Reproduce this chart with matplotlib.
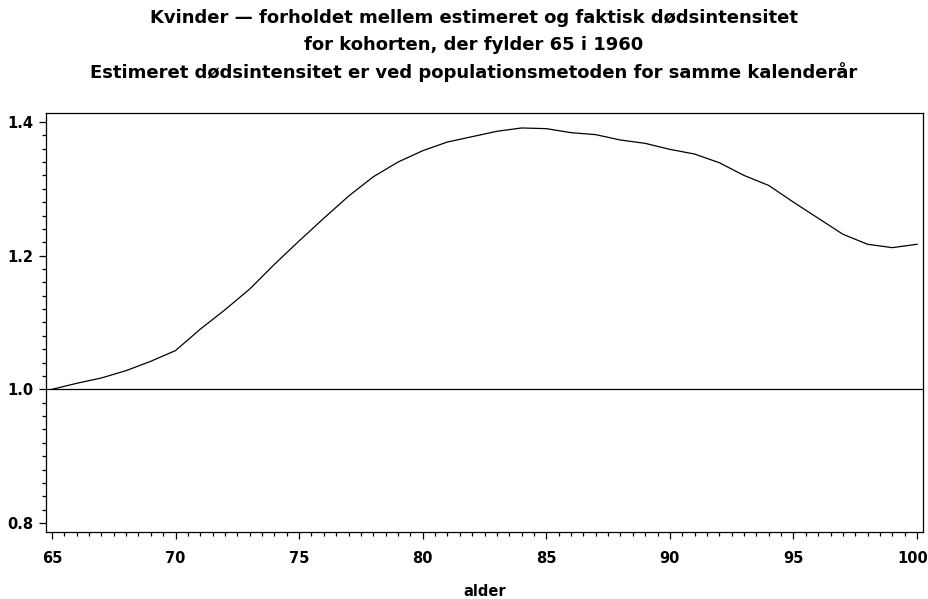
import matplotlib
matplotlib.use("Agg")
import matplotlib.pyplot as plt
import matplotlib.transforms as mtransforms
from matplotlib.ticker import MultipleLocator, FormatStrFormatter

plt.rcParams['font.family'] = ['DejaVu Sans']

# forholdet mellem estimeret og faktisk dødsintensitet, kvinder
alder = list(range(65, 101))
forhold = [1.000, 1.009, 1.017, 1.028, 1.042, 1.058, 1.090, 1.119, 1.150, 1.187,
           1.222, 1.256, 1.289, 1.318, 1.340, 1.357, 1.370, 1.378, 1.386, 1.391,
           1.390, 1.384, 1.381, 1.373, 1.368, 1.359, 1.352, 1.339, 1.320, 1.305,
           1.280, 1.256, 1.232, 1.217, 1.212, 1.217]
reference = 1.0

titler = ["Kvinder \u2014 forholdet mellem estimeret og faktisk dødsintensitet",
          "for kohorten, der fylder 65 i 1960",
          "Estimeret dødsintensitet er ved populationsmetoden for samme kalenderår"]

W, H = 929, 599
fig = plt.figure(figsize=(W / 100, H / 100), dpi=100)
ax = fig.add_axes([46 / W, 1 - 532 / H, (923 - 46) / W, (532 - 113) / H])

ax.plot(alder, forhold, color='black', lw=0.9)
ax.axhline(reference, color='black', lw=0.9)

ax.set_xlim(64.76, 100.24)
ax.set_ylim(0.7866, 1.4134)
ax.xaxis.set_major_locator(MultipleLocator(5))
ax.xaxis.set_minor_locator(MultipleLocator(0.5))
ax.yaxis.set_major_locator(MultipleLocator(0.2))
ax.yaxis.set_minor_locator(MultipleLocator(0.02))
ax.yaxis.set_major_formatter(FormatStrFormatter('%.1f'))

ax.tick_params(which='major', direction='out', length=5, width=0.9, labelsize=10.5)
ax.tick_params(axis='x', which='major', pad=9)
ax.tick_params(axis='y', which='major', pad=4)
ax.tick_params(which='minor', direction='out', length=3, width=0.9)
for lbl in ax.get_xticklabels() + ax.get_yticklabels():
    lbl.set_fontweight('bold')
for s in ax.spines.values():
    s.set_linewidth(0.9)

ax.set_xlabel('alder', fontsize=10.5, fontweight='bold', labelpad=13)

# tre titellinjer
for i, t in enumerate(titler):
    fig.text(474 / W, 1 - (18 + 27 * i) / H, t, ha='center', va='center',
             fontsize=13, fontweight='bold')

# skub "100" lidt ind, så den ikke rammer kanten
fig.canvas.draw()
sidste = ax.xaxis.get_major_ticks()[-1]
for tick in ax.xaxis.get_major_ticks():
    if abs(tick.get_loc() - 100) < 1e-9:
        sidste = tick
sidste.label1.set_transform(sidste.label1.get_transform()
                            + mtransforms.ScaledTranslation(-3 / 72, 0, fig.dpi_scale_trans))

fig.savefig('out.png', dpi=100)
